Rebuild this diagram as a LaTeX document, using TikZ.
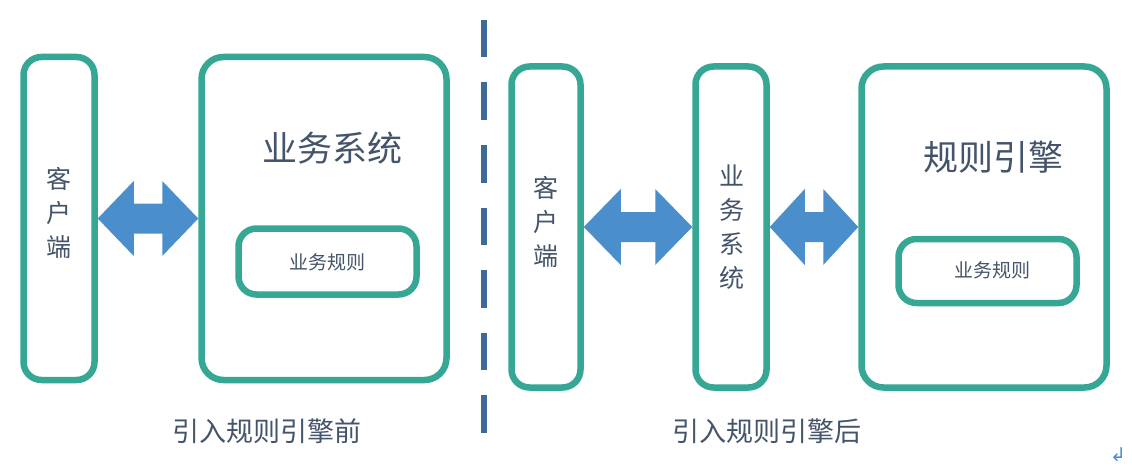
\documentclass[tikz,border=0pt]{standalone}
\usepackage{fontspec}
\newfontfamily\cjk{Noto Sans CJK SC}
\newfontfamily\symf{DejaVu Sans}
\usetikzlibrary{calc}
\definecolor{teal}{HTML}{37A795}
\definecolor{arrowblue}{HTML}{4A8FCB}
\definecolor{dashblue}{HTML}{3D6A97}
\definecolor{txt}{HTML}{44546A}
\tikzset{
  box/.style={draw=teal, line width=6.5pt, rounded corners=18pt, fill=white, inner sep=0pt},
  bigbox/.style={box, rounded corners=22pt},
  title/.style={text=txt, font=\cjk\fontsize{35}{40}\selectfont, inner sep=0pt},
  small/.style={text=txt, font=\cjk\fontsize{19}{22}\selectfont, inner sep=0pt},
  vert/.style={text=txt, font=\cjk\fontsize{25}{34}\selectfont, align=center, inner sep=0pt},
  caption/.style={text=txt, font=\cjk\fontsize{27}{30}\selectfont, inner sep=0pt},
  divider/.style={draw=dashblue, line width=6pt, dash pattern=on 37.5pt off 25pt},
  arrowfill/.style={fill=arrowblue}
}
\newcommand\dblarrow[4]{%
  \fill[arrowfill] let \p1=(#1.east), \p2=(#2.west) in
    (\x1,\y1) -- (\x1+#3pt,\y1+#4pt) -- (\x1+#3pt,\y1+15pt) -- (\x2-#3pt,\y1+15pt)
    -- (\x2-#3pt,\y1+#4pt) -- (\x2,\y1) -- (\x2-#3pt,\y1-#4pt) -- (\x2-#3pt,\y1-15pt)
    -- (\x1+#3pt,\y1-15pt) -- (\x1+#3pt,\y1-#4pt) -- cycle;}
\begin{document}
\begin{tikzpicture}[x=1pt,y=-1pt]
\useasboundingbox[fill=white] (0,0) rectangle (1132,468);
% divider
\coordinate (d1) at (484,20);
\coordinate (d2) at (484,433);
\draw[divider] (d1) -- (d2);
% left part
\node[box, minimum width=71pt, minimum height=323pt] (lc) at (59,218.5) {};
\node[vert] (lct) at (59,213) {客\\户\\端};
\node[bigbox, minimum width=245pt, minimum height=323pt] (lb) at (324,218.5) {};
\node[title] (lbt) at (332,148) {业务系统};
\node[box, minimum width=178pt, minimum height=66pt] (lr) at (327.5,261.5) {};
\node[small] (lrt) at (327,262) {业务规则};
\dblarrow{lc}{lb}{36}{37.5}
\node[caption] (lcap) at (267,431) {引入规则引擎前};
% right part
\node[box, minimum width=69pt, minimum height=321pt] (rc) at (546,227) {};
\node[vert] (rct) at (546,222) {客\\户\\端};
\node[box, minimum width=71pt, minimum height=321pt] (rb) at (731,227) {};
\node[vert] (rbt) at (732,227.5) {业\\务\\系\\统};
\node[bigbox, minimum width=245pt, minimum height=321pt] (re) at (984,227) {};
\node[title] (ret) at (993,157) {规则引擎};
\node[box, minimum width=178pt, minimum height=64pt] (rr) at (987.5,271) {};
\node[small] (rrt) at (992,270) {业务规则};
\dblarrow{rc}{rb}{37}{38}
\dblarrow{rb}{re}{35}{38}
\node[caption] (rcap) at (767,431) {引入规则引擎后};
% paragraph mark
\node[text=arrowblue, font=\symf\fontsize{19}{20}\selectfont, inner sep=0pt] (pm) at (1118,455) {↲};
\end{tikzpicture}
\end{document}
